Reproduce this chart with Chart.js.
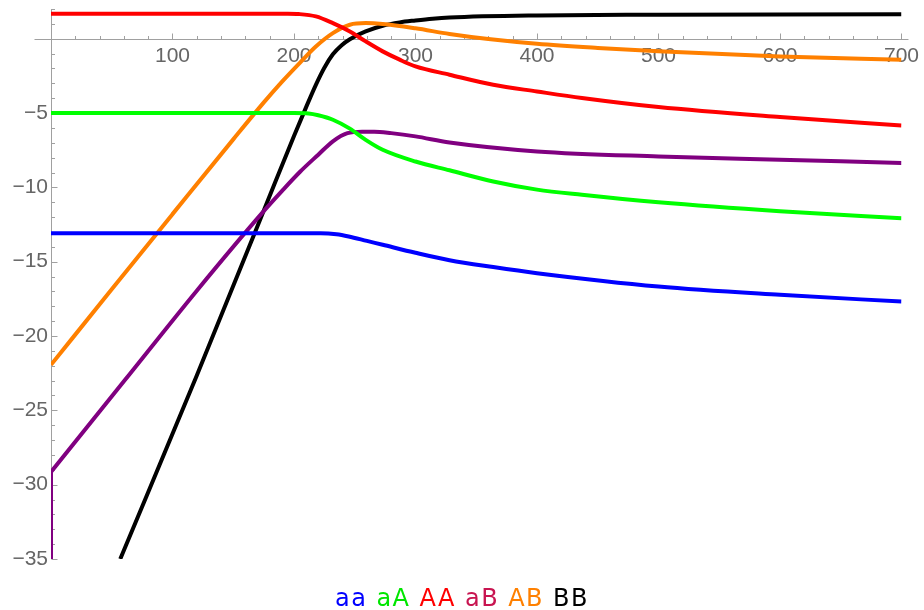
<!DOCTYPE html>
<html>
<head>
<meta charset="utf-8">
<script src="https://cdn.jsdelivr.net/npm/chart.js@4.4.1/dist/chart.umd.min.js"></script>
<style>
html,body{margin:0;padding:0;background:#ffffff;}
#wrap{width:924px;height:610px;}
</style>
</head>
<body>
<div id="wrap"><canvas id="c" width="924" height="610"></canvas></div>
<script>
// ---- data ----
const seriesNames = ['aa', 'aA', 'AA', 'aB', 'AB', 'BB'];
const lineColors = ['#0000ff', '#00ff00', '#ff0000', '#800080', '#ff8000', '#000000'];
const legendColors = ['#0000ff', '#00e600', '#ff0000', '#c81450', '#ff8000', '#000000'];

const aaX = [0, 100, 200, 222, 235, 245, 260, 273, 300, 328, 364, 400, 500, 600, 700];
const aaY = [-13.08, -13.08, -13.08, -13.08, -13.15, -13.3, -13.6, -13.86, -14.4, -14.9, -15.36, -15.77, -16.67, -17.23, -17.68];

const aAX = [0, 100, 200, 212, 220, 232, 246, 259, 273, 300, 328, 364, 400, 437, 500, 600, 700];
const aAY = [-5.0, -5.0, -5.0, -5.03, -5.15, -5.45, -6.05, -6.8, -7.47, -8.26, -8.85, -9.6, -10.15, -10.5, -11.0, -11.6, -12.07];

const AAX = [0, 100, 195, 204, 218, 232, 246, 259, 273, 287, 300, 328, 364, 400, 437, 500, 600, 700];
const AAY = [1.68, 1.68, 1.68, 1.66, 1.5, 1.05, 0.49, -0.18, -0.85, -1.41, -1.86, -2.42, -3.1, -3.55, -3.99, -4.6, -5.27, -5.83];

// aB starts with a vertical rise at x = 0, then the smooth curve
const aBStemX = [0, 0];
const aBStemY = [-35, -29.15];
const aBX = [0, 60, 120, 174, 190, 205, 220, 232, 244, 256, 266, 280, 300, 328, 400, 500, 600, 700];
const aBY = [-29.15, -23.05, -16.95, -11.7, -10.25, -8.95, -7.8, -6.9, -6.35, -6.25, -6.25, -6.35, -6.57, -6.98, -7.58, -7.92, -8.14, -8.36];

const ABX = [0, 50, 100, 150, 175, 190, 205, 218, 232, 246, 259, 273, 300, 328, 360, 400, 450, 500, 600, 700];
const ABY = [-21.94, -16.85, -11.8, -6.77, -4.3, -2.9, -1.6, -0.52, 0.38, 0.94, 1.05, 0.99, 0.7, 0.32, -0.02, -0.34, -0.62, -0.85, -1.19, -1.41];

const BBX = [57, 120, 170, 185, 200, 210, 218, 225, 232, 239, 246, 259, 273, 287, 300, 314, 328, 400, 500, 600, 700];
const BBY = [-35, -22.65, -12.6, -9.55, -6.55, -4.6, -3.1, -1.95, -1.05, -0.45, -0.03, 0.49, 0.87, 1.1, 1.23, 1.35, 1.43, 1.57, 1.61, 1.63, 1.64];

const xTickValues = [100, 200, 300, 400, 500, 600, 700];
const xTickLabels = ['100', '200', '300', '400', '500', '600', '700'];
const yTickValues = [-5, -10, -15, -20, -25, -30, -35];
const yTickLabels = ['\u22125', '\u221210', '\u221215', '\u221220', '\u221225', '\u221230', '\u221235'];

// ---- build datasets ----
const toPoints = (xa, ya) => xa.map((x, j) => ({x: x, y: ya[j]}));
const seriesX = [aaX, aAX, AAX, aBX, ABX, BBX];
const seriesY = [aaY, aAY, AAY, aBY, ABY, BBY];
const baseStyle = {
  borderWidth: 4,
  pointRadius: 0,
  fill: false,
  borderCapStyle: 'butt',
  borderJoinStyle: 'round'
};
const datasets = seriesNames.map((name, i) => Object.assign({
  label: name,
  data: toPoints(seriesX[i], seriesY[i]),
  borderColor: lineColors[i],
  backgroundColor: lineColors[i],
  cubicInterpolationMode: 'monotone'
}, baseStyle));
datasets.push(Object.assign({
  label: 'aB (x = 0)',
  data: toPoints(aBStemX, aBStemY),
  borderColor: lineColors[3],
  backgroundColor: lineColors[3],
  tension: 0
}, baseStyle));

const AXIS_COLOR = '#a0a0a0';

// axis lines and tick marks (ticks point into the plot)
const axesPlugin = {
  id: 'mAxes',
  beforeDatasetsDraw(chart) {
    const {ctx, chartArea} = chart;
    const sx = chart.scales.x, sy = chart.scales.y;
    const y0 = Math.round(sy.getPixelForValue(0)) + 0.5;
    const x0 = Math.round(sx.getPixelForValue(0)) + 0.5;
    ctx.save();
    ctx.strokeStyle = AXIS_COLOR;
    ctx.lineWidth = 1;
    ctx.beginPath();
    ctx.moveTo(x0 - 17, y0);
    ctx.lineTo(chartArea.right + 7, y0);
    ctx.moveTo(x0, chartArea.top);
    ctx.lineTo(x0, chartArea.bottom);
    for (let v = 20; v <= sx.max; v += 20) {
      const px = Math.round(sx.getPixelForValue(v)) + 0.5;
      const len = (v % 100 === 0) ? 6 : 3.5;
      ctx.moveTo(px, y0);
      ctx.lineTo(px, y0 - len);
    }
    for (let v = Math.ceil(sy.min); v <= sy.max; v += 1) {
      if (v === 0) continue;
      const py = Math.round(sy.getPixelForValue(v)) + 0.5;
      const len = (v % 5 === 0) ? 6 : 3.5;
      ctx.moveTo(x0, py);
      ctx.lineTo(x0 + len, py);
    }
    ctx.stroke();
    ctx.restore();
  }
};

// coloured text legend centred under the plot
const legendPlugin = {
  id: 'textLegend',
  afterDraw(chart) {
    const ctx = chart.ctx;
    ctx.save();
    ctx.font = '24px "DejaVu Sans"';
    ctx.letterSpacing = '1.5px';
    ctx.textBaseline = 'alphabetic';
    ctx.textAlign = 'left';
    const gap = 9;
    const widths = seriesNames.map(s => ctx.measureText(s).width);
    const total = widths.reduce((a, b) => a + b, 0) + gap * (widths.length - 1);
    let x = chart.width / 2 - total / 2;
    const baseY = chart.chartArea.bottom + 47;
    seriesNames.forEach((s, i) => {
      ctx.fillStyle = legendColors[i];
      ctx.fillText(s, x, baseY);
      x += widths[i] + gap;
    });
    ctx.restore();
  }
};

new Chart(document.getElementById('c'), {
  type: 'line',
  data: {datasets: datasets},
  options: {
    responsive: false,
    animation: false,
    devicePixelRatio: 1,
    layout: {padding: {left: 0, right: 21, top: 9, bottom: 51}},
    plugins: {
      legend: {display: false},
      tooltip: {enabled: false}
    },
    scales: {
      x: {
        type: 'linear',
        position: {y: 0},
        min: 0,
        max: 700,
        grid: {display: false, drawTicks: false},
        border: {display: false},
        ticks: {
          stepSize: 100,
          autoSkip: false,
          maxRotation: 0,
          padding: 5,
          color: '#666666',
          font: {family: '"Liberation Sans", Arial, sans-serif', size: 21},
          callback: (v) => {
            const k = xTickValues.indexOf(v);
            return k >= 0 ? xTickLabels[k] : '';
          }
        }
      },
      y: {
        type: 'linear',
        position: 'left',
        min: -35,
        max: 2,
        grid: {display: false, drawTicks: false},
        border: {display: false},
        afterFit: (scale) => { scale.width = 51; scale.paddingTop = 0; scale.paddingBottom = 0; },
        ticks: {
          stepSize: 5,
          autoSkip: false,
          padding: 3,
          color: '#666666',
          font: {family: '"Liberation Sans", Arial, sans-serif', size: 21},
          callback: (v) => {
            const k = yTickValues.indexOf(v);
            return k >= 0 ? yTickLabels[k] : '';
          }
        }
      }
    }
  },
  plugins: [axesPlugin, legendPlugin]
});
</script>
</body>
</html>
